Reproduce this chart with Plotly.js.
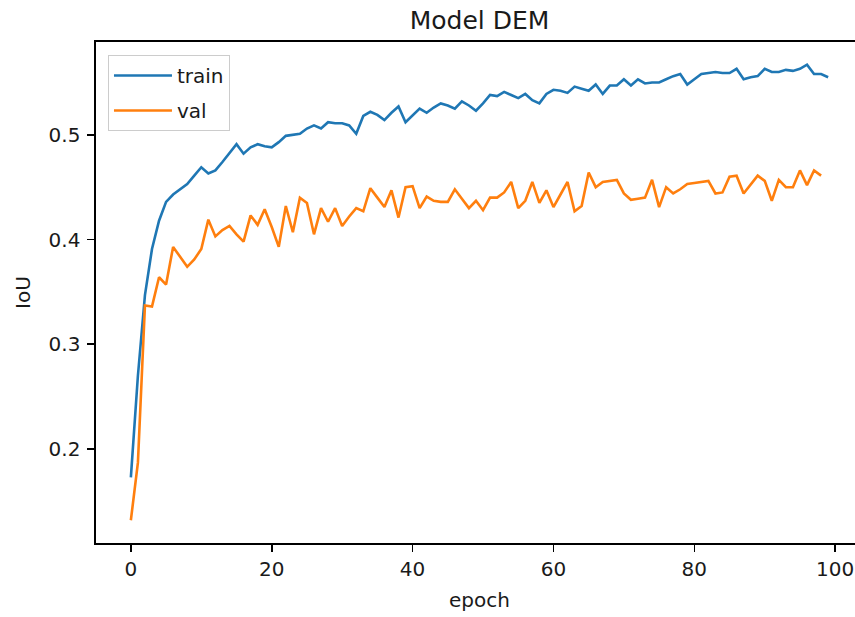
<!DOCTYPE html>
<html>
<head>
<meta charset="utf-8">
<script src="https://cdn.plot.ly/plotly-3.0.1.min.js"></script>
<style>
html, body { margin: 0; padding: 0; overflow: hidden; background: #fff; }
#chart { width: 866px; height: 617px; }
</style>
</head>
<body>
<div id="chart"></div>
<script>
const chartTitle = 'Model DEM';
const xLabel = 'epoch';
const yLabel = 'IoU';
const seriesNames = ['train', 'val'];
const xTicks = [0, 20, 40, 60, 80, 100];
const yTicks = [0.2, 0.3, 0.4, 0.5];
const yTickText = ['0.2', '0.3', '0.4', '0.5'];

const trainIoU = [
  0.173, 0.270, 0.347, 0.391, 0.418, 0.436, 0.443, 0.448, 0.453, 0.461,
  0.469, 0.463, 0.466, 0.474, 0.483, 0.491, 0.482, 0.488, 0.491, 0.489,
  0.488, 0.493, 0.499, 0.500, 0.501, 0.506, 0.509, 0.506, 0.512, 0.511,
  0.511, 0.509, 0.501, 0.518, 0.522, 0.519, 0.514, 0.521, 0.527, 0.512,
  0.519, 0.525, 0.521, 0.526, 0.530, 0.528, 0.525, 0.532, 0.528, 0.523,
  0.530, 0.538, 0.537, 0.541, 0.538, 0.535, 0.539, 0.533, 0.530, 0.539,
  0.543, 0.542, 0.540, 0.546, 0.544, 0.542, 0.548, 0.539, 0.547, 0.547,
  0.553, 0.547, 0.553, 0.549, 0.550, 0.550, 0.553, 0.556, 0.558, 0.548,
  0.553, 0.558, 0.559, 0.560, 0.559, 0.559, 0.563, 0.553, 0.555, 0.556,
  0.563, 0.560, 0.560, 0.562, 0.561, 0.563, 0.567, 0.558, 0.558, 0.555
];

const valIoU = [
  0.132, 0.187, 0.337, 0.336, 0.364, 0.357, 0.393, 0.384, 0.374, 0.381,
  0.391, 0.419, 0.403, 0.409, 0.413, 0.405, 0.398, 0.423, 0.414, 0.429,
  0.412, 0.393, 0.432, 0.407, 0.440, 0.435, 0.405, 0.430, 0.417, 0.430,
  0.413, 0.422, 0.430, 0.427, 0.449, 0.440, 0.431, 0.447, 0.421, 0.450,
  0.451, 0.430, 0.441, 0.437, 0.436, 0.436, 0.448, 0.439, 0.430, 0.437,
  0.428, 0.440, 0.440, 0.445, 0.455, 0.430, 0.437, 0.455, 0.435, 0.447,
  0.431, 0.443, 0.455, 0.427, 0.432, 0.464, 0.450, 0.455, 0.456, 0.457,
  0.444, 0.438, 0.439, 0.440, 0.457, 0.431, 0.450, 0.444, 0.448, 0.453,
  0.454, 0.455, 0.456, 0.444, 0.445, 0.460, 0.461, 0.444, 0.453, 0.461,
  0.456, 0.437, 0.457, 0.450, 0.450, 0.466, 0.452, 0.466, 0.461
];

const trainEpochs = trainIoU.map((_, i) => i);
const valEpochs = valIoU.map((_, i) => i);

const font = 'DejaVu Sans, sans-serif';
const ink = '#1a1a1a';

const traces = [
  {x: trainEpochs, y: trainIoU, name: seriesNames[0], type: 'scatter', mode: 'lines',
   legendgroup: 'a', line: {color: '#1f77b4', width: 2.6}},
  {x: valEpochs, y: valIoU, name: seriesNames[1], type: 'scatter', mode: 'lines',
   legendgroup: 'b', line: {color: '#ff7f0e', width: 2.6}}
];

const axisCommon = {
  showgrid: false, zeroline: false, showline: true, mirror: true,
  linecolor: '#000', linewidth: 1.6,
  ticks: 'outside', ticklen: 7, tickwidth: 1.6, tickcolor: '#000',
  tickfont: {family: font, size: 20, color: ink}
};

const layout = {
  width: 866, height: 617,
  margin: {l: 96, r: 3, t: 42, b: 74, pad: 0},
  paper_bgcolor: '#fff', plot_bgcolor: '#fff',
  font: {family: font, color: ink},
  title: {text: chartTitle, font: {family: font, size: 25, color: ink},
          x: 0.5, xref: 'paper', xanchor: 'center',
          y: 1 - 20 / 617, yref: 'container', yanchor: 'middle'},
  xaxis: Object.assign({}, axisCommon, {
    range: [-4.95, 103.95], tickmode: 'array', tickvals: xTicks,
    title: {text: xLabel, font: {family: font, size: 20, color: ink}, standoff: 13}
  }),
  yaxis: Object.assign({}, axisCommon, {
    range: [0.1103, 0.5886], tickmode: 'array', tickvals: yTicks, ticktext: yTickText,
    ticklabelstandoff: 3,
    title: {text: yLabel, font: {family: font, size: 20, color: ink}, standoff: 12}
  }),
  showlegend: true,
  legend: {
    x: 0.0156, y: 0.974, xanchor: 'left', yanchor: 'top',
    bgcolor: 'rgba(255,255,255,0.8)', bordercolor: '#cccccc', borderwidth: 1,
    font: {family: font, size: 20, color: ink},
    itemwidth: 58, traceorder: 'grouped', tracegroupgap: 6
  }
};

Plotly.newPlot('chart', traces, layout, {displayModeBar: false, staticPlot: true});
</script>
</body>
</html>
